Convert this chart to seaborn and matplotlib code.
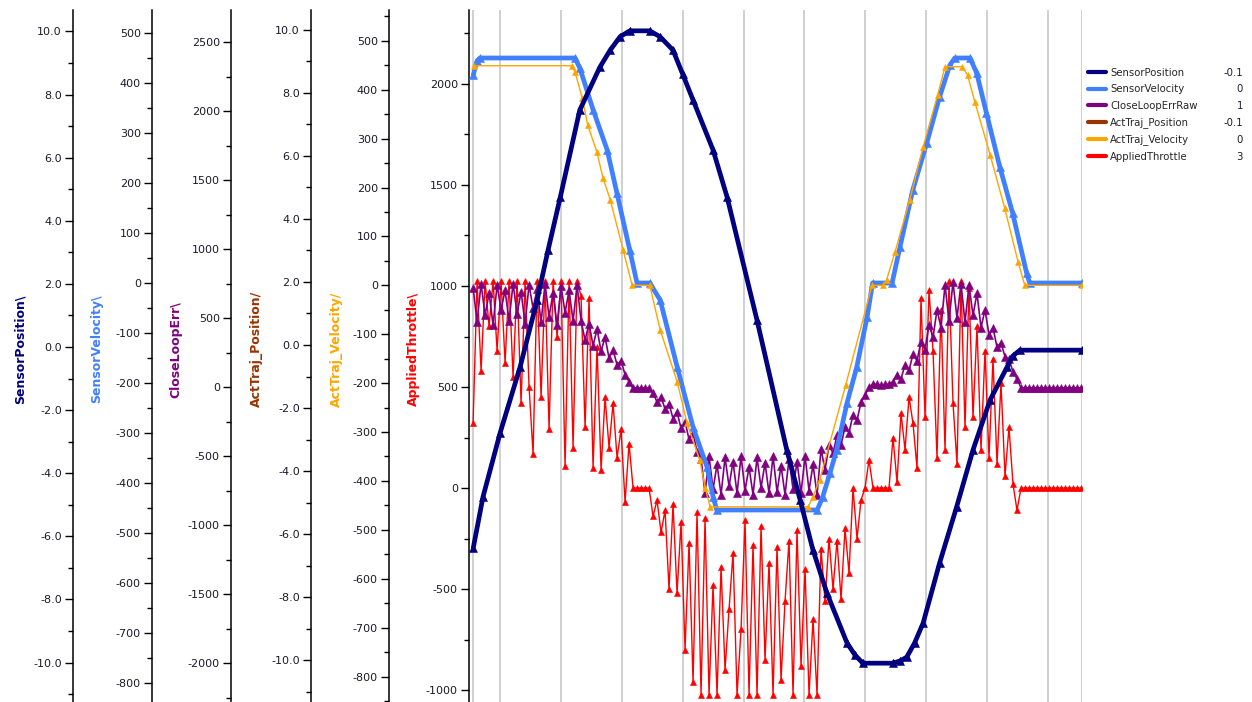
import numpy as np
import matplotlib
matplotlib.use("Agg")
import matplotlib.pyplot as plt
from matplotlib.lines import Line2D
from matplotlib.ticker import MultipleLocator, FormatStrFormatter
import seaborn as sns

sns.set_style("white")
plt.rcParams["font.family"] = ["DejaVu Sans"]
plt.rcParams["axes.unicode_minus"] = False

# ---- data (time in s) ----
# SensorPosition / ActTraj_Position (slow keypoints)
pos_t = [9.56, 9.72, 10.00, 10.33, 10.61, 10.79, 10.99, 11.31, 11.64, 11.81,
         11.97, 12.13, 12.46, 12.63, 12.84, 13.00, 13.17, 13.50, 13.73, 14.22,
         14.71, 14.93, 15.14, 15.37, 15.70, 15.83, 15.96, 16.45, 16.57, 16.68,
         16.81, 16.95, 17.22, 17.50, 17.77, 18.05, 18.33, 18.42, 18.54, 19.56]
sensor_pos = [-6.37, -4.75, -2.73, -0.63, 1.49, 3.08, 4.75, 7.51, 8.87, 9.41,
              9.83, 10.02, 10.02, 9.83, 9.41, 8.65, 7.83, 6.24, 4.75, 0.86,
              -3.26, -4.85, -6.43, -7.80, -9.38, -9.76, -10.02, -10.02, -9.95, -9.83,
              -9.38, -8.75, -6.85, -5.07, -3.26, -1.68, -0.63, -0.29, -0.10, -0.10]
traj_pos = [-6.45, -4.80, -2.80, -0.70, 1.40, 3.00, 4.70, 7.45, 8.80, 9.35,
            9.78, 9.98, 9.98, 9.78, 9.35, 8.60, 7.78, 6.18, 4.70, 0.80,
            -3.32, -4.90, -6.48, -7.85, -9.42, -9.80, -10.05, -10.05, -9.98, -9.86,
            -9.42, -8.80, -6.90, -5.12, -3.32, -1.74, -0.70, -0.35, -0.15, -0.15]

# SensorVelocity
vel_t = [9.56, 9.62, 9.67, 11.23, 11.31, 11.53, 11.76, 11.92, 12.13, 12.25,
         12.46, 12.63, 12.91, 13.17, 13.40, 13.50, 13.56, 15.21, 15.30, 15.42,
         15.53, 15.70, 15.86, 16.03, 16.12, 16.44, 16.57, 16.78, 17.01, 17.22,
         17.39, 17.47, 17.72, 17.83, 17.99, 18.21, 18.42, 18.65, 18.70, 19.56]
sensor_vel = [416, 444, 450, 450, 430, 346, 266, 180, 66, 0,
              0, -34, -168, -288, -368, -428, -454, -454, -428, -380,
              -334, -240, -168, -68, 0, 0, 72, 186, 280, 372,
              436, 450, 450, 420, 340, 232, 140, 20, 0, 0]

# ActTraj_Velocity
tvel_t = [9.57, 11.18, 11.23, 11.35, 11.44, 11.59, 11.69, 11.81, 12.02, 12.17,
          12.46, 12.63, 12.91, 13.07, 13.28, 13.37, 13.45, 15.06, 15.14, 15.25,
          15.68, 16.11, 16.29, 16.35, 16.49, 16.73, 16.95, 17.19, 17.31, 17.59,
          17.68, 17.80, 18.05, 18.29, 18.51, 18.62, 19.56]
traj_vel = [449, 449, 437, 383, 328, 273, 220, 175, 73, 0,
            0, -91, -197, -281, -357, -414, -453, -453, -433, -398,
            -203, 0, 0, 11, 69, 175, 283, 390, 447, 447,
            430, 375, 267, 158, 48, 0, 0]

# fast-sampled signals (one sample every 0.0657 s from t = 9.557)
throttle = [320, 1023, 580, 1023, 800, 1023, 680, 1023, 620, 1023, 550, 1023, 420, 1023,
            500, 170, 1023, 450, 1023, 290, 1023, 750, 1023, 110, 1023, 200, 1023,
            950, 300, 940, 100, 700, 90, 450, 200, 420, 150, 290, -70, 220,
            0, 0, 0, 0, 0,
            -140, -60, -220, -110, -500, -80, -520, -170, -800, -270, -960, -120,
            -1023, -150, -1023, -480, -1023, -390, -900, -600, -320, -1023, -700,
            -160, -1023, -280, -1023, -190, -850, -370, -1023, -290, -950, -560,
            -260, -1023, -210, -880, -400, -1023, -650, -1023, -300, -560, -250,
            -500, -260, -550, -200, -420, 0, -250, -60,
            0, 140, 0, 0, 0, 0, 0,
            250, 30, 370, 190, 450, 320, 100, 940, 350, 980, 680, 150, 880, 190,
            1023, 420, 120, 1023, 300, 990, 350, 800, 190, 680, 150, 640, 120,
            520, 60, 300, 20, -110,
            0, 0, 0, 0, 0, 0, 0, 0, 0, 0, 0, 0, 0, 0, 0, 0]
loop_err = [720, 470, 750, 520, 680, 450, 740, 560, 700, 480, 750, 530, 690, 460,
            740, 570, 710, 470, 750, 510, 680, 450, 730, 540, 700, 480, 740,
            480, 340, 460, 300, 420, 260, 360, 210, 270, 160, 190, 90, 40,
            -10, -5, -10, -5, -10,
            -40, -110, -70, -160, -120, -230, -180, -300, -250, -380, -330, -470,
            -520, -770, -500, -740, -560, -780, -510, -720, -540, -770, -500,
            -750, -580, -780, -510, -730, -550, -770, -500, -760, -570, -780,
            -520, -740, -540, -770, -500, -750, -560, -780, -450, -600, -420,
            -480, -350, -420, -290, -330, -200, -240, -110,
            -60, 0, 20, 20, 15, 20, 20,
            40, 90, 60, 160, 120, 240, 190, 330, 270, 450, 360, 560, 430, 740,
            480, 760, 500, 750, 470, 740, 520, 680, 430, 560, 380, 430, 290,
            320, 220, 200, 110, 60,
            -5, -5, -5, -5, -5, -5, -5, -5, -5, -5, -5, -5, -5, -5, -5, -5]
fast_t = 9.557 + 0.0657 * np.arange(len(throttle))

names = ["SensorPosition", "SensorVelocity", "CloseLoopErrRaw",
         "ActTraj_Position", "ActTraj_Velocity", "AppliedThrottle"]
current = ["-0.1", "0", "1", "-0.1", "0", "3"]
colors = ["#000080", "#4080ff", "#800080", "#993300", "#ffa500", "#ff0000"]

W, H = 1252, 702
fig = plt.figure(figsize=(W / 100, H / 100), dpi=100)
ax = fig.add_axes([469 / W, 0, 613 / W, 692 / H])
# twins in drawing order (later = on top)
ax_err = ax.twinx()
ax_vel = ax.twinx()
ax_tvel = ax.twinx()
ax_tpos = ax.twinx()
ax_pos = ax.twinx()


def setup(a, spine_x, label, color, lims, major, minor, fmt, label_x):
    a.set_ylim(*lims)
    for s in ["top", "right", "bottom"]:
        a.spines[s].set_visible(False)
    a.spines["left"].set_visible(True)
    a.spines["left"].set_position(("axes", spine_x))
    a.spines["left"].set_color("black")
    a.spines["left"].set_linewidth(1.1)
    a.yaxis.set_ticks_position("left")
    a.yaxis.set_label_position("left")
    a.yaxis.set_major_locator(MultipleLocator(major))
    a.yaxis.set_minor_locator(MultipleLocator(minor))
    a.yaxis.set_major_formatter(FormatStrFormatter(fmt))
    a.tick_params(axis="y", which="both", left=True, right=False, width=1, color="black")
    a.tick_params(axis="y", which="major", length=6, labelsize=8, pad=2, labelcolor="#1a1a2a")
    a.tick_params(axis="y", which="minor", length=3.5)
    a.set_ylabel(label, color=color, fontsize=9, fontweight="bold")
    a.yaxis.set_label_coords(label_x, 0.51)


def trace(a, t, v, color, lw, ms):
    sns.lineplot(x=t, y=v, ax=a, color=color, linewidth=lw, marker="^",
                 markersize=ms, markeredgecolor=color, markeredgewidth=0.4,
                 sort=False, estimator=None)


trace(ax, fast_t, throttle, colors[5], 1.0, 5)
trace(ax_err, fast_t, loop_err, colors[2], 1.2, 6)
trace(ax_vel, vel_t, sensor_vel, colors[1], 3.4, 5.5)
trace(ax_tvel, tvel_t, traj_vel, colors[4], 1.0, 5)
trace(ax_tpos, pos_t, traj_pos, colors[3], 1.0, 4)
trace(ax_pos, pos_t, sensor_pos, colors[0], 3.4, 5.5)

setup(ax, 0.0, "AppliedThrottle\\", colors[5], (-1059, 2366), 500, 250, "%d", -0.080)
setup(ax_pos, -0.646, "SensorPosition\\", colors[0], (-11.25, 10.68), 2, 1, "%.1f", -0.722)
setup(ax_vel, -0.5171, "SensorVelocity\\", colors[1], (-838, 546), 100, 50, "%d", -0.597)
setup(ax_err, -0.3883, "CloseLoopErr\\", colors[2], (-2282, 2732), 500, 250, "%d", -0.467)
setup(ax_tpos, -0.2577, "ActTraj_Position/", colors[3], (-11.32, 10.62), 2, 1, "%.1f", -0.336)
setup(ax_tvel, -0.1305, "ActTraj_Velocity/", colors[4], (-852, 563), 100, 50, "%d", -0.205)

ax.set_xlim(9.49, 19.56)
ax.set_xticks([9.557] + list(range(10, 20)) + [19.56])
ax.tick_params(axis="x", length=0, labelbottom=False)
ax.grid(True, axis="x", color="#c8c8c8", linewidth=1.2)
ax.grid(False, axis="y")
ax.set_xlabel("")

handles = [Line2D([], [], color=c, linewidth=3) for c in colors]
leg = fig.legend(handles, names, loc="upper left",
                 bbox_to_anchor=(1088 / W, 1 - 68 / H), frameon=False,
                 fontsize=7.3, handlelength=1.78, handletextpad=0.4,
                 labelspacing=0.63, borderpad=0, borderaxespad=0)
fig.canvas.draw()
for txt, val in zip(leg.get_texts(), current):
    bb = txt.get_window_extent()
    fig.text(1243 / W, (bb.y0 + bb.y1) / 2 / H, val, ha="right", va="center",
             fontsize=7.3, color="#1a1a2a")

fig.savefig("out.png", dpi=100)
